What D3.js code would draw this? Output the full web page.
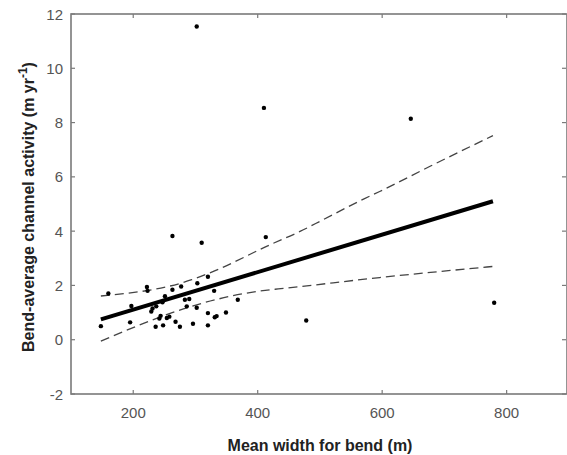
<!DOCTYPE html>
<html>
<head>
<meta charset="utf-8">
<script src="https://cdn.jsdelivr.net/npm/d3@7.9.0/dist/d3.min.js"></script>
<style>
  body { margin: 0; background: #fff; }
  text { font-family: Arial, "Liberation Sans", sans-serif; }
</style>
</head>
<body>
<svg id="chart" width="567" height="455"></svg>
<script>
// Bend width (m) vs bend-average channel activity (m/yr)
const widths = [148, 160, 195, 197, 222, 223, 229, 231, 236, 237, 242, 244, 247, 248, 251,
  254, 258, 263, 263, 268, 275, 277, 283, 286, 290, 296, 302, 302, 303, 310,
  320, 320, 320, 330, 331, 334, 349, 368, 410, 413, 478, 646, 780];
const activity = [0.5, 1.7, 0.64, 1.24, 1.94, 1.8, 1.04, 1.15, 0.48, 1.23, 0.78, 0.88, 1.38, 0.53, 1.6,
  0.8, 0.85, 1.84, 3.82, 0.66, 0.48, 1.96, 1.47, 1.23, 1.5, 0.59, 1.18, 11.54, 2.08, 3.57,
  2.32, 0.98, 0.53, 1.8, 0.83, 0.87, 1.0, 1.47, 8.54, 3.78, 0.71, 8.14, 1.36];

// fitted line and confidence limits
const fitX = [148, 778];
const fitY = [0.75, 5.1];
const upperX = [148, 294, 323, 420, 468, 505, 570, 596, 677, 778];
const upperY = [1.61, 2.21, 2.46, 3.5, 3.99, 4.42, 5.18, 5.46, 6.39, 7.52];
const lowerX = [148, 294, 315, 420, 433, 596, 778];
const lowerY = [-0.05, 1.23, 1.37, 1.84, 1.87, 2.29, 2.7];

const xTicks = [200, 400, 600, 800];
const yTicks = [-2, 0, 2, 4, 6, 8, 10, 12];

const svg = d3.select('#chart');
const m = { left: 71, right: 567, top: 14, bottom: 394 };

const x = d3.scaleLinear().domain([100, 897]).range([m.left, m.right]);
const y = d3.scaleLinear().domain([-2, 12]).range([m.bottom, m.top]);

const axisColor = '#7a7a7a';
const labelColor = '#555';

// frame
svg.append('rect')
  .attr('x', m.left).attr('y', m.top)
  .attr('width', m.right - m.left).attr('height', m.bottom - m.top)
  .attr('fill', 'none')
  .attr('stroke', axisColor)
  .attr('stroke-width', 1.6);

// inward ticks on all four sides
const tickLen = 4;
const ticks = svg.append('g').attr('stroke', axisColor).attr('stroke-width', 1.2);
xTicks.forEach((t) => {
  ticks.append('line').attr('x1', x(t)).attr('x2', x(t)).attr('y1', m.bottom).attr('y2', m.bottom - tickLen);
  ticks.append('line').attr('x1', x(t)).attr('x2', x(t)).attr('y1', m.top).attr('y2', m.top + tickLen);
});
yTicks.forEach((t) => {
  ticks.append('line').attr('y1', y(t)).attr('y2', y(t)).attr('x1', m.left).attr('x2', m.left + tickLen);
  ticks.append('line').attr('y1', y(t)).attr('y2', y(t)).attr('x1', m.right - 1).attr('x2', m.right - 1 - tickLen);
});

// tick labels
svg.append('g').selectAll('text')
  .data(xTicks)
  .join('text')
  .attr('x', (d) => x(d))
  .attr('y', 418)
  .attr('text-anchor', 'middle')
  .attr('font-size', 15)
  .attr('fill', labelColor)
  .text((d) => d);

svg.append('g').selectAll('text')
  .data(yTicks)
  .join('text')
  .attr('x', 63)
  .attr('y', (d) => y(d) + 5.5)
  .attr('text-anchor', 'end')
  .attr('font-size', 15)
  .attr('fill', labelColor)
  .text((d) => d);

// axis titles
svg.append('text')
  .attr('x', 320)
  .attr('y', 451)
  .attr('text-anchor', 'middle')
  .attr('font-size', 16)
  .attr('font-weight', 'bold')
  .attr('fill', '#222')
  .text('Mean width for bend (m)');

const yTitle = svg.append('text')
  .attr('transform', 'translate(34,207) rotate(-90)')
  .attr('text-anchor', 'middle')
  .attr('font-size', 16)
  .attr('font-weight', 'bold')
  .attr('fill', '#222');
yTitle.append('tspan').text('Bend-average channel activity (m yr');
yTitle.append('tspan').attr('dy', -7).attr('font-size', 12).text('-1');
yTitle.append('tspan').attr('dy', 7).text(')');

// confidence limits
const line = d3.line().x((d) => x(d[0])).y((d) => y(d[1])).curve(d3.curveMonotoneX);
[[upperX, upperY], [lowerX, lowerY]].forEach(([xs, ys]) => {
  svg.append('path')
    .datum(xs.map((v, i) => [v, ys[i]]))
    .attr('d', line)
    .attr('fill', 'none')
    .attr('stroke', '#444')
    .attr('stroke-width', 1.3)
    .attr('stroke-dasharray', '9,5');
});

// fitted line
svg.append('path')
  .datum(fitX.map((v, i) => [v, fitY[i]]))
  .attr('d', d3.line().x((d) => x(d[0])).y((d) => y(d[1])))
  .attr('fill', 'none')
  .attr('stroke', '#000')
  .attr('stroke-width', 4);

// points
svg.append('g').selectAll('circle')
  .data(widths.map((w, i) => ({ w, a: activity[i] })))
  .join('circle')
  .attr('cx', (d) => x(d.w))
  .attr('cy', (d) => y(d.a))
  .attr('r', 2.2)
  .attr('fill', '#000');
</script>
</body>
</html>
